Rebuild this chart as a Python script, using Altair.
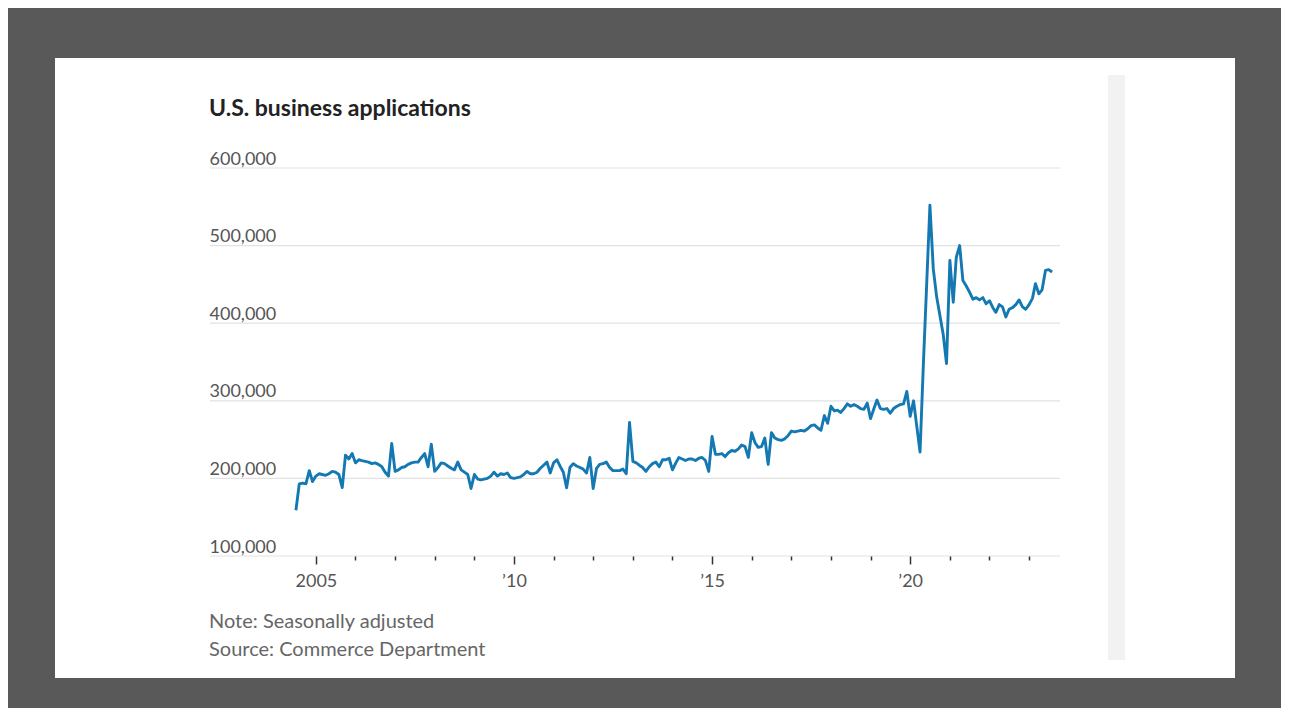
import altair as alt
import pandas as pd

# Monthly U.S. business applications (thousands), seasonally adjusted
y2004 = [159, 193, 194, 193, 210, 196]  # Jul-Dec
y2005 = [203, 206, 205, 204, 206, 209, 208, 205, 188, 230, 225, 232]
y2006 = [220, 224, 223, 222, 221, 219, 220, 218, 215, 208, 203, 245]
y2007 = [209, 211, 214, 215, 218, 220, 221, 221, 227, 232, 215, 244]
y2008 = [209, 214, 220, 219, 216, 213, 211, 221, 211, 208, 205, 187]
y2009 = [205, 199, 198, 199, 200, 203, 208, 203, 206, 205, 207, 201]
y2010 = [200, 201, 202, 205, 209, 206, 206, 208, 213, 217, 221, 207]
y2011 = [220, 224, 216, 208, 188, 214, 219, 216, 214, 212, 207, 227]
y2012 = [187, 213, 218, 219, 221, 214, 210, 210, 210, 212, 206, 272]
y2013 = [222, 220, 217, 214, 209, 215, 219, 221, 215, 224, 224, 226]
y2014 = [211, 220, 227, 225, 223, 225, 225, 223, 226, 227, 223, 209]
y2015 = [254, 231, 231, 232, 228, 233, 236, 235, 238, 243, 241, 227]
y2016 = [259, 246, 240, 241, 252, 218, 259, 252, 250, 249, 251, 255]
y2017 = [261, 260, 261, 262, 261, 264, 268, 269, 265, 262, 281, 271]
y2018 = [293, 287, 288, 285, 290, 296, 293, 295, 293, 290, 289, 297]
y2019 = [277, 290, 301, 290, 289, 290, 284, 290, 293, 295, 296, 312]
y2020 = [280, 300, 268, 234, 345, 450, 552, 470, 434, 410, 385, 348]
y2021 = [481, 427, 485, 500, 455, 448, 440, 431, 433, 430, 433, 425]
y2022 = [429, 420, 414, 424, 421, 408, 418, 420, 424, 430, 421, 418]
y2023 = [424, 432, 451, 438, 443, 468, 469, 466]  # Jan-Aug

y_ticks = [100000, 200000, 300000, 400000, 500000, 600000]
tick_years = list(range(2005, 2024))

title_text = "U.S. business applications"
note_text = "Note: Seasonally adjusted"
source_text = "Source: Commerce Department"

series = (y2004 + y2005 + y2006 + y2007 + y2008 + y2009 + y2010 + y2011 + y2012
          + y2013 + y2014 + y2015 + y2016 + y2017 + y2018 + y2019 + y2020 + y2021
          + y2022 + y2023)
dates = pd.date_range("2004-07-01", periods=len(series), freq="MS")
df = pd.DataFrame({
    "date": dates.strftime("%Y-%m-%dT00:00:00"),
    "apps": [v * 1000 for v in series],
})

FONT = "Lato"
x_scale = alt.Scale(domain=[alt.DateTime(year=2002, month=5, date=1),
                            alt.DateTime(year=2023, month=10, date=13)])
y_scale = alt.Scale(domain=[100000, 600000], nice=False, zero=False)

label_expr = ("year(datum.value) === 2005 ? '2005' : "
              "(year(datum.value) % 5 === 0 ? '\u2019' + substring(toString(year(datum.value)), 2, 4) : '')")

x_axis = alt.Axis(
    values=[alt.DateTime(year=y) for y in tick_years],
    title=None, domain=False, grid=False,
    ticks=True, tickColor="#333333", tickWidth=1.5,
    tickSize={"condition": {"test": "year(datum.value) % 5 === 0", "value": 8}, "value": 4},
    labelExpr=label_expr, labelFont=FONT, labelFontSize=18, labelColor="#555555",
    labelPadding=8, labelFlush=False, labelOverlap=False, zindex=1,
)
y_axis = alt.Axis(
    values=y_ticks, labelExpr="format(datum.value, ',')", title=None,
    domain=False, ticks=False, grid=False,
    labelAlign="left", labelBaseline="alphabetic", labelPadding=1, labelOffset=-4,
    labelFont=FONT, labelFontSize=18, labelColor="#555555", zindex=1,
)

one = pd.DataFrame({"a": [0]})

panel = alt.Chart(one).mark_rect(color="white").encode(
    x=alt.value(-155), x2=alt.value(1025), y=alt.value(-110), y2=alt.value(510))
strip = alt.Chart(one).mark_rect(color="#f2f2f2").encode(
    x=alt.value(898), x2=alt.value(915), y=alt.value(-93), y2=alt.value(492))

grid = alt.Chart(pd.DataFrame({"v": y_ticks})).mark_rule(color="#e2e2e2", strokeWidth=1.2).encode(
    y=alt.Y("v:Q", scale=y_scale, axis=y_axis))

line = alt.Chart(df).mark_line(color="#1479b2", strokeWidth=2.9, strokeJoin="round").encode(
    x=alt.X("date:T", scale=x_scale, axis=x_axis),
    y=alt.Y("apps:Q", scale=y_scale, axis=y_axis),
)

title = alt.Chart(pd.DataFrame({"t": [title_text]})).mark_text(
    align="left", baseline="middle", font=FONT, fontSize=23, fontWeight="bold", color="#222222"
).encode(text="t:N", x=alt.value(-1), y=alt.value(-59))

note = alt.Chart(pd.DataFrame({"t": [note_text]})).mark_text(
    align="left", baseline="middle", font=FONT, fontSize=20, color="#666666"
).encode(text="t:N", x=alt.value(-1), y=alt.value(454))

source = alt.Chart(pd.DataFrame({"t": [source_text]})).mark_text(
    align="left", baseline="middle", font=FONT, fontSize=20, color="#666666"
).encode(text="t:N", x=alt.value(-1), y=alt.value(482))

chart = alt.layer(panel, strip, grid, line, title, note, source).properties(
    width=850, height=388,
    padding={"left": 202, "top": 160, "right": 221, "bottom": 152},
    autosize=alt.AutoSizeParams(type="none"),
    background="#595959",
).configure_view(stroke=None)

chart.save("out.html", embed_options={"renderer": "svg", "actions": False})
